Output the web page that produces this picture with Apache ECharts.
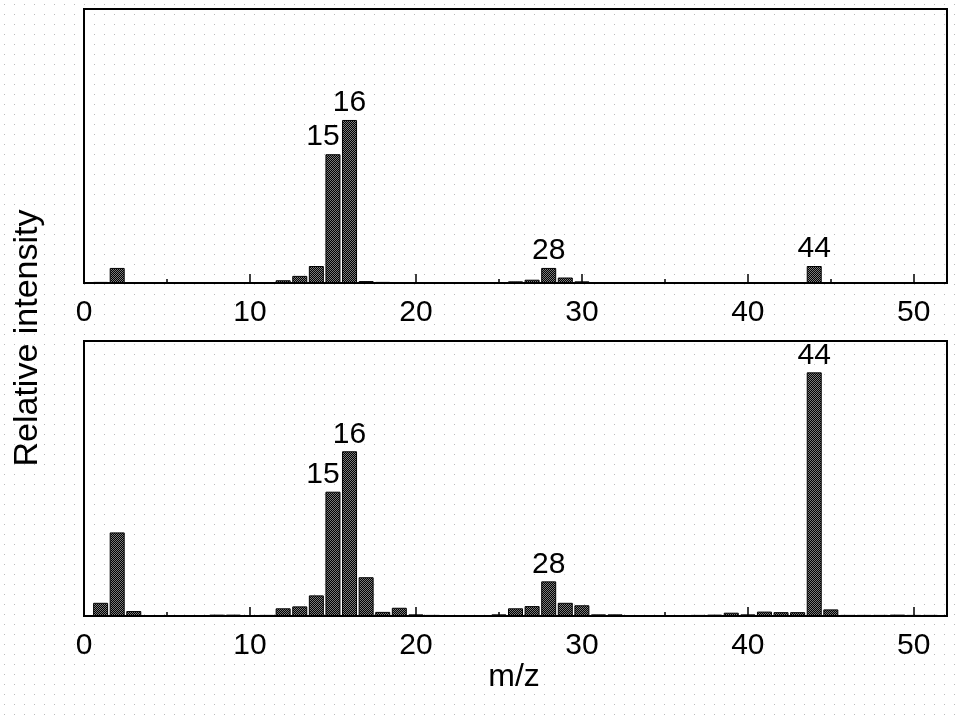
<!DOCTYPE html>
<html>
<head>
<meta charset="utf-8">
<script src="https://cdn.jsdelivr.net/npm/echarts@6/dist/echarts.min.js"></script>
<style>
html,body{margin:0;padding:0;background:#fff;}
#chart{width:961px;height:724px;}
</style>
</head>
<body>
<div id="chart"></div>
<script>
// m/z values 1..51
var mz = [1,2,3,4,5,6,7,8,9,10,11,12,13,14,15,16,17,18,19,20,21,22,23,24,25,26,27,28,29,30,31,32,33,34,35,36,37,38,39,40,41,42,43,44,45,46,47,48,49,50,51];
// relative intensity (% of panel height), top panel
var topIntensity = [0.4,5.5,0,0,0,0,0,0,0,0,0.2,1.0,2.6,6.2,47.0,59.5,0.7,0.4,0.2,0,0,0,0,0,0.3,0.6,1.2,5.5,2.0,0.6,0,0,0,0,0,0,0,0,0,0,0,0,0,6.2,0.3,0,0,0,0,0,0];
// bottom panel
var bottomIntensity = [4.8,30.4,1.8,0,0,0,0,0.5,0.5,0,0.4,2.8,3.5,7.5,45.2,59.9,14.1,1.5,3.0,0.6,0.4,0.3,0.3,0.3,0.6,2.8,3.6,12.6,4.8,3.9,0.6,0.6,0,0.3,0.3,0.3,0.4,0.5,1.2,0.6,1.6,1.4,1.4,88.6,2.4,0.4,0.4,0.4,0.5,0.4,0.4];
var labeledPeaks = [15,16,28,44];
var majorTicks = [0,10,20,30,40,50];
var minorTicks = [5,15,25,35,45];
var xTitle = 'm/z';
var yTitle = 'Relative intensity';

// background dot pattern
var bg = document.createElement('canvas');
bg.width = 10; bg.height = 10;
var bctx = bg.getContext('2d');
bctx.fillStyle = '#bbbbbb';
bctx.fillRect(4,4,1,1);

// bar fill pattern (fine crosshatch)
var bp = document.createElement('canvas');
bp.width = 2; bp.height = 2;
var pctx = bp.getContext('2d');
pctx.fillStyle = '#000';
pctx.fillRect(0,0,2,2);
pctx.fillStyle = '#7a7a7a';
pctx.fillRect(0,0,1,1);
pctx.fillRect(1,1,1,1);

var FONT = '"Liberation Sans", Arial, Helvetica, sans-serif';

function buildData(values){
  return mz.map(function(m, i){
    var item = {value: [m, values[i]]};
    if (labeledPeaks.indexOf(m) >= 0) {
      item.label = {show: true, formatter: String(m)};
      if (m === 15) item.label.offset = [-10, 0];
    }
    return item;
  });
}

var grids = [
  {left: 84, right: 14, top: 9, height: 274, show: true, borderColor: '#000', borderWidth: 2, backgroundColor: 'transparent'},
  {left: 84, right: 14, top: 341, height: 275, show: true, borderColor: '#000', borderWidth: 2, backgroundColor: 'transparent'}
];

var xAxes = [], yAxes = [], series = [];
[0,1].forEach(function(g){
  xAxes.push({
    type: 'value', gridIndex: g, min: 0, max: 52, interval: 10,
    axisLine: {show: true, onZero: false, lineStyle: {color: '#000', width: 2}},
    axisTick: {show: true, inside: true, length: 9, customValues: majorTicks, lineStyle: {color: '#000', width: 1.5}},
    axisLabel: {show: true, customValues: majorTicks, margin: 15, fontSize: 30, color: '#000', fontFamily: FONT},
    splitLine: {show: false}
  });
  xAxes.push({
    type: 'value', gridIndex: g, min: 0, max: 52, interval: 10, position: 'bottom',
    axisLine: {show: false},
    axisTick: {show: true, inside: true, length: 4, customValues: minorTicks, lineStyle: {color: '#000', width: 1.5}},
    axisLabel: {show: false},
    splitLine: {show: false}
  });
  yAxes.push({type: 'value', gridIndex: g, min: 0, max: 100, show: false, splitLine: {show: false}});
});

[topIntensity, bottomIntensity].forEach(function(vals, g){
  series.push({
    type: 'bar', xAxisIndex: g*2, yAxisIndex: g,
    barWidth: 15,
    data: buildData(vals),
    itemStyle: {color: {image: bp, repeat: 'repeat'}, borderColor: '#000', borderWidth: 1},
    label: {show: false, position: 'top', distance: 2, fontSize: 30, color: '#000', fontFamily: FONT},
    silent: true, animation: false
  });
});

var chart = echarts.init(document.getElementById('chart'), null, {renderer: 'canvas'});
chart.setOption({
  backgroundColor: '#fff',
  animation: false,
  grid: grids,
  xAxis: xAxes,
  yAxis: yAxes,
  series: series,
  graphic: [
    {type: 'rect', silent: true, z: -100, shape: {x: 0, y: 0, width: 961, height: 724}, style: {fill: {image: bg, repeat: 'repeat'}}},
    {type: 'text', silent: true, x: 28, y: 338, rotation: Math.PI/2,
     style: {text: yTitle, fontSize: 34, fontFamily: FONT, fill: '#000', align: 'center', verticalAlign: 'middle'}},
    {type: 'text', silent: true, x: 514, y: 677,
     style: {text: xTitle, fontSize: 32, fontFamily: FONT, fill: '#000', align: 'center', verticalAlign: 'middle'}}
  ]
});
</script>
</body>
</html>
